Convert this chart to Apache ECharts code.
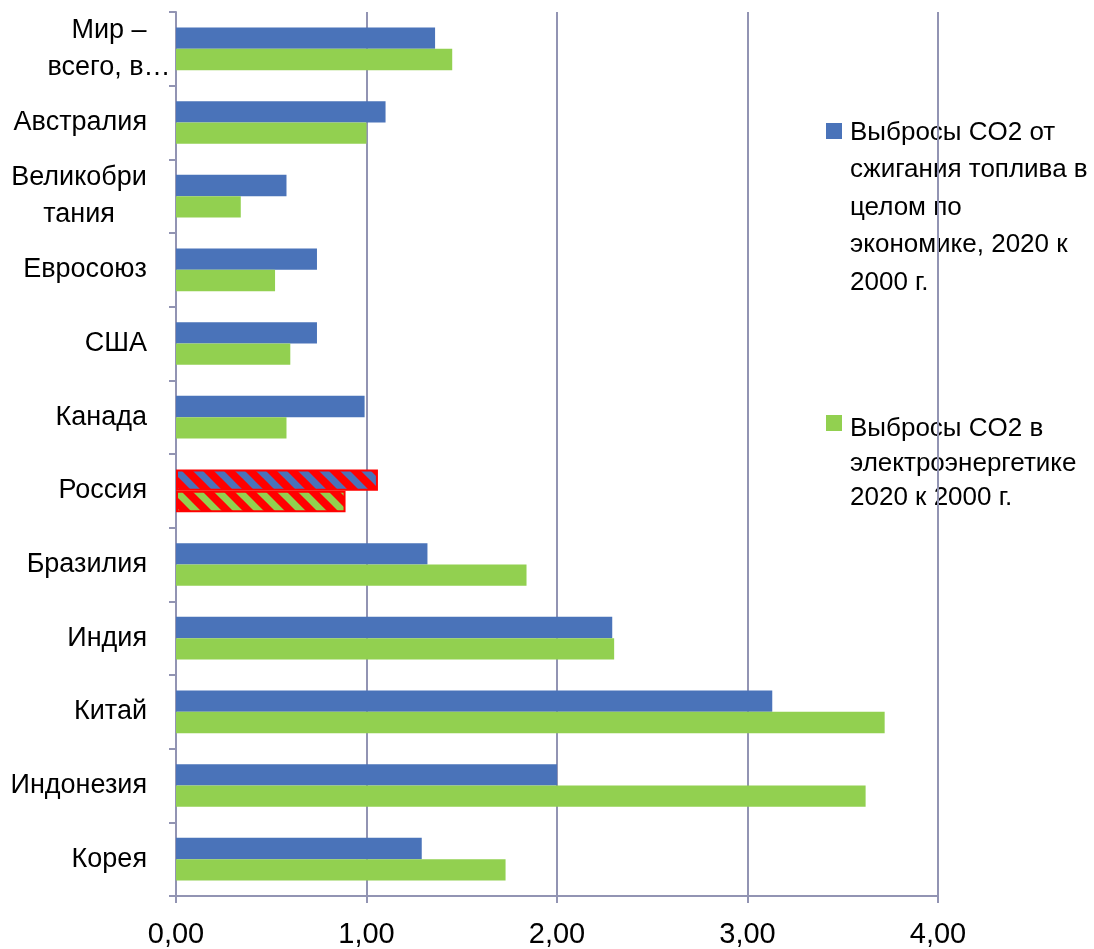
<!DOCTYPE html>
<html>
<head>
<meta charset="utf-8">
<style>
  html, body { margin: 0; padding: 0; background: #ffffff; }
  #chart { width: 1094px; height: 949px; }
</style>
<script src="https://cdn.jsdelivr.net/npm/echarts@6/dist/echarts.min.js"></script>
</head>
<body>
<div id="chart"></div>
<script>
// Categories (top to bottom) and ratios 2020 / 2000
const categories = ['Мир –\nвсего, в…', 'Австралия', 'Великобри\nтания', 'Евросоюз', 'США', 'Канада',
                    'Россия', 'Бразилия', 'Индия', 'Китай', 'Индонезия', 'Корея'];
const fuelTotal   = [1.36, 1.10, 0.58, 0.74, 0.74, 0.99, 1.06, 1.32, 2.29, 3.13, 2.00, 1.29];
const powerSector = [1.45, 1.00, 0.34, 0.52, 0.60, 0.58, 0.89, 1.84, 2.30, 3.72, 3.62, 1.73];
const seriesNames = [
  'Выбросы CO2 от\nсжигания топлива в\nцелом по\nэкономике, 2020 к\n2000 г.',
  'Выбросы CO2 в\nэлектроэнергетике\n2020 к 2000 г.'
];
const highlighted = 'Россия';
const xTicks = [0, 1, 2, 3, 4];

const BLUE = '#4A73B9';
const GREEN = '#92D050';
const RED = '#FF0000';
const GRID = '#9294B3';
const FONT = "'Liberation Sans', Arial, sans-serif";
const LABEL_SIZE = 27;

// red tile with diagonal stripes in the series colour
function stripeTile(color) {
  const s = 21;
  const c = document.createElement('canvas');
  c.width = s; c.height = s;
  const g = c.getContext('2d');
  g.fillStyle = RED;
  g.fillRect(0, 0, s, s);
  g.strokeStyle = color;
  g.lineWidth = 7;
  for (let k = -1; k <= 1; k++) {
    g.beginPath();
    g.moveTo(-5, -5 + k * s);
    g.lineTo(s + 5, s + 5 + k * s);
    g.stroke();
  }
  return c;
}

function seriesData(values, color) {
  return values.map((v, i) => {
    if (categories[i] !== highlighted) return v;
    return {
      value: v,
      itemStyle: {
        color: { image: stripeTile(color), repeat: 'repeat' },
        borderColor: RED,
        borderWidth: 2
      }
    };
  });
}

// wrapped category labels: every line centred on the first line's box
const measureCtx = document.createElement('canvas').getContext('2d');
measureCtx.font = LABEL_SIZE + 'px ' + FONT;
const labelRich = {};
categories.forEach((c, i) => {
  if (c.indexOf('\n') < 0) return;
  const first = c.split('\n')[0];
  labelRich['w' + i] = {
    width: Math.ceil(measureCtx.measureText(first).width),
    align: 'center', fontFamily: FONT, fontSize: LABEL_SIZE, lineHeight: 37, color: '#000000'
  };
});
function labelFormatter(val, idx) {
  if (val.indexOf('\n') < 0) return val;
  return val.split('\n').map(l => '{w' + idx + '|' + l + '}').join('\n');
}

// legend entries: square marker beside the first line of a multi-line caption
function legendEntry(name, color, iconTop, textTop, lineHeight) {
  return {
    type: 'group',
    children: [
      { type: 'rect', shape: { x: 826, y: iconTop, width: 16, height: 16 }, style: { fill: color } },
      {
        type: 'text', x: 850, y: textTop,
        style: {
          text: name, fill: '#000000', font: '26px ' + FONT,
          lineHeight: lineHeight, verticalAlign: 'top', align: 'left'
        }
      }
    ]
  };
}

const chart = echarts.init(document.getElementById('chart'), null, { renderer: 'canvas' });

chart.setOption({
  animation: false,
  backgroundColor: '#ffffff',
  grid: { left: 176, right: 156, top: 12, bottom: 53, containLabel: false, outerBoundsMode: 'none' },
  graphic: [
    legendEntry(seriesNames[0], BLUE, 123, 114, 37.5),
    legendEntry(seriesNames[1], GREEN, 415, 412, 34.5)
  ],
  xAxis: {
    type: 'value',
    min: xTicks[0],
    max: xTicks[xTicks.length - 1],
    interval: 1,
    axisLine: { show: true, lineStyle: { color: GRID, width: 2 } },
    axisTick: { show: true, length: 7, lineStyle: { color: GRID, width: 2 } },
    splitLine: { show: true, lineStyle: { color: GRID, width: 2 } },
    axisLabel: {
      margin: 24,
      fontFamily: FONT,
      fontSize: 29,
      color: '#000000',
      formatter: v => v.toFixed(2).replace('.', ',')
    }
  },
  yAxis: {
    type: 'category',
    inverse: true,
    data: categories,
    axisLine: { show: true, lineStyle: { color: GRID, width: 2 } },
    axisTick: { show: true, length: 7, lineStyle: { color: GRID, width: 2 } },
    splitLine: { show: false },
    axisLabel: {
      margin: 29,
      fontFamily: FONT,
      fontSize: LABEL_SIZE,
      lineHeight: 37,
      color: '#000000',
      formatter: labelFormatter,
      rich: labelRich
    }
  },
  series: [
    {
      name: seriesNames[0],
      type: 'bar',
      data: seriesData(fuelTotal, BLUE),
      itemStyle: { color: BLUE },
      barGap: '0%',
      barCategoryGap: '42%'
    },
    {
      name: seriesNames[1],
      type: 'bar',
      data: seriesData(powerSector, GREEN),
      itemStyle: { color: GREEN },
      barGap: '0%',
      barCategoryGap: '42%'
    }
  ]
});
</script>
</body>
</html>
